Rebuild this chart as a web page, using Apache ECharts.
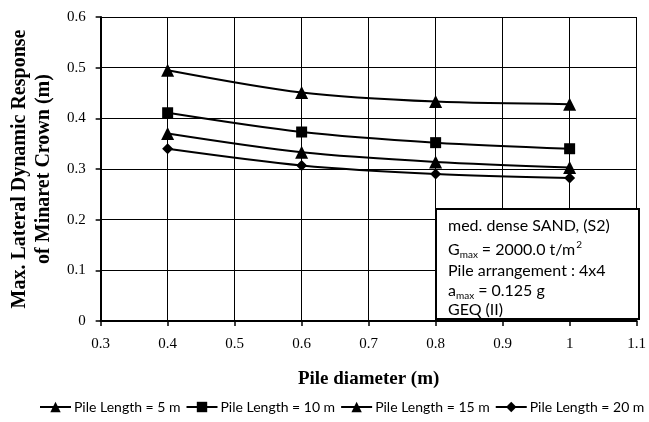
<!DOCTYPE html>
<html><head><meta charset="utf-8">
<script src="https://cdn.jsdelivr.net/npm/echarts@6/dist/echarts.min.js"></script>
<style>html,body{margin:0;padding:0;background:#fff}#c{width:649px;height:422px}</style>
</head><body><div id="c"></div>
<script>
const diameters = [0.4, 0.6, 0.8, 1.0];
const pl5  = [0.495, 0.451, 0.433, 0.428];
const pl10 = [0.411, 0.373, 0.352, 0.340];
const pl15 = [0.370, 0.333, 0.314, 0.303];
const pl20 = [0.340, 0.307, 0.290, 0.282];
const seriesNames = ['Pile Length = 5 m','Pile Length = 10 m','Pile Length = 15 m','Pile Length = 20 m'];
const symbols = ['triangle','rect','triangle','diamond'];
const symbolSizes = [13, 11, 13, 11];
const allData = [pl5, pl10, pl15, pl20];

const chart = echarts.init(document.getElementById('c'));
const times = '"Liberation Serif", "Times New Roman", serif';
const sans = 'Lato, "Open Sans", sans-serif';

const series = allData.map((vals, i) => ({
  name: seriesNames[i], type: 'line', smooth: 0.3,
  data: vals.map((v, j) => [diameters[j], v]),
  symbol: symbols[i], symbolSize: symbolSizes[i],
  lineStyle: {color: '#000', width: 2},
  itemStyle: {color: '#000'}
}));

const ctx = document.createElement('canvas').getContext('2d');
function w(t, size) { ctx.font = size + 'px ' + sans; return ctx.measureText(t).width; }
const F = 16, S = 10;
function txt(t, x, y, size) {
  return {type: 'text', x: x, y: y, z: 101, style: {text: t, font: size + 'px ' + sans, fill: '#000', verticalAlign: 'middle'}};
}
const x0 = 12;
const boxChildren = [
  {type: 'rect', z: 100, shape: {x: 0, y: 0, width: 203, height: 110}, style: {fill: '#fff', stroke: '#000', lineWidth: 2}},
  txt('med. dense SAND, (S2)', x0, 17, F)
];
let gx = x0;
boxChildren.push(txt('G', gx, 41, F)); gx += w('G', F);
boxChildren.push(txt('max', gx, 46, S)); gx += w('max', S) + 4;
boxChildren.push(txt('= 2000.0 t/m', gx, 41, F)); gx += w('= 2000.0 t/m', F);
boxChildren.push(txt('2', gx + 1, 36, S));
boxChildren.push(txt('Pile arrangement : 4x4', x0, 62, F));
let ax = x0;
boxChildren.push(txt('a', ax, 82, F)); ax += w('a', F);
boxChildren.push(txt('max', ax, 87, S)); ax += w('max', S) + 4;
boxChildren.push(txt('= 0.125 g', ax, 82, F));
boxChildren.push(txt('GEQ (II)', x0, 101, F));

chart.setOption({
  animation: false,
  grid: {left: 96, right: 7, top: 17, bottom: 101},
  xAxis: {
    type: 'value', min: 0.3, max: 1.1, interval: 0.1,
    name: 'Pile diameter (m)', nameLocation: 'middle', nameGap: 49,
    nameTextStyle: {fontFamily: times, fontWeight: 'bold', fontSize: 19, color: '#000'},
    axisLine: {lineStyle: {color: '#000', width: 2}},
    axisTick: {show: true, length: 5, lineStyle: {color: '#000', width: 1.5}},
    axisLabel: {fontFamily: times, fontSize: 15, color: '#000', margin: 16,
      formatter: v => (Math.round(v*10)/10).toString()},
    splitLine: {show: true, lineStyle: {color: '#000', width: 1}}
  },
  yAxis: {
    type: 'value', min: 0, max: 0.6, interval: 0.1,
    name: 'Max. Lateral Dynamic Response\nof Minaret Crown (m)', nameLocation: 'middle', nameGap: 42,
    nameTextStyle: {fontFamily: times, fontWeight: 'bold', fontSize: 20, color: '#000', lineHeight: 24},
    axisLine: {show: true, lineStyle: {color: '#000', width: 2}},
    axisTick: {show: true, length: 5, lineStyle: {color: '#000', width: 1.5}},
    axisLabel: {fontFamily: times, fontSize: 15, color: '#000', margin: 15,
      formatter: v => (Math.round(v*10)/10).toString()},
    splitLine: {show: true, lineStyle: {color: '#000', width: 1}}
  },
  legend: {
    top: 400, left: 39, width: 660, padding: 0, itemWidth: 31, itemHeight: 13, itemGap: 5,
    textStyle: {fontFamily: sans, fontSize: 14, color: '#000', padding: [0,0,0,-2]},
    data: seriesNames
  },
  series: series,
  graphic: [{type: 'group', left: 435, top: 208, z: 100, children: boxChildren}]
});
</script></body></html>
